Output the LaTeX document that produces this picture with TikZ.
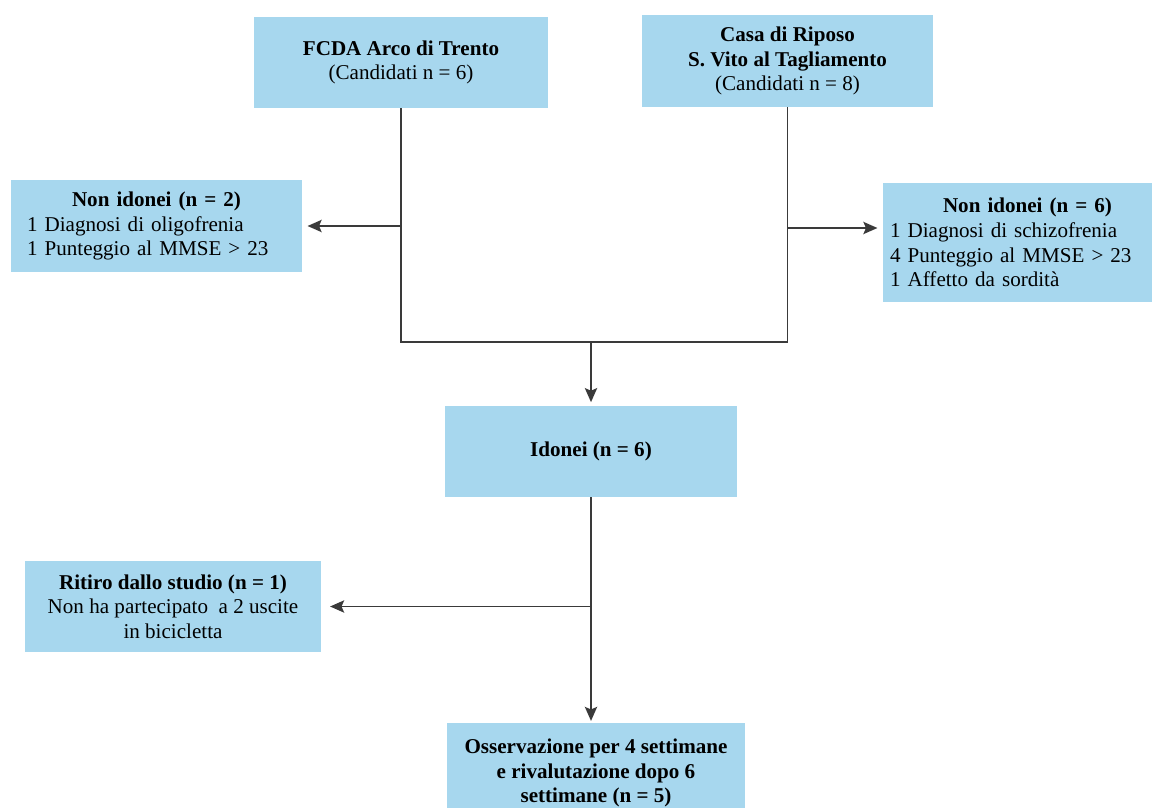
\documentclass[tikz,border=0pt]{standalone}
\usepackage{fontspec}
\setmainfont{Liberation Serif}
\usetikzlibrary{arrows.meta}

\definecolor{boxblue}{HTML}{A7D7EE}
\definecolor{linegray}{HTML}{3A3A3A}

\begin{document}
\begin{tikzpicture}[x=0.02cm,y=-0.02cm,
    box/.style={fill=boxblue, draw=none, align=center, inner sep=0pt,
                font=\fontsize{12}{14}\selectfont},
    link/.style={draw=linegray, line width=0.8pt},
    arrow/.style={link, -{Stealth[length=8pt,width=7pt,inset=1.5pt]}}]
        \path[use as bounding box] (0,0) rectangle (1160,808);   % page frame
        \clip (0,0) rectangle (1160,808);

        % centres
        \node[box, minimum width=5.88cm, minimum height=1.82cm] (fcda) at (401,62.5)
            {\textbf{FCDA Arco di Trento}\\(Candidati n = 6)};
        \node[box, minimum width=5.82cm, minimum height=1.84cm] (casa) at (787.5,61)
            {\textbf{Casa di Riposo}\\\textbf{S. Vito al Tagliamento}\\(Candidati n = 8)};

        % esclusi
        \node[box, minimum width=5.82cm, minimum height=1.84cm, text width=5.18cm, align=left] (nonL) at (156.5,226)
            {\makebox[\linewidth]{\textbf{Non idonei (n = 2)}}\\1 Diagnosi di oligofrenia\\1 Punteggio al MMSE > 23};
        \node[box, minimum width=5.38cm, minimum height=2.38cm, text width=5.1cm, align=left] (nonR) at (1017.5,242.5)
            {\makebox[\linewidth]{\hspace{0.4cm}\textbf{Non idonei (n = 6)}}\\1 Diagnosi di schizofrenia\\4 Punteggio al MMSE > 23\\1 Affetto da sordità};

        \node[box, minimum width=5.84cm, minimum height=1.82cm] (idonei) at (591,451.5)
            {\textbf{Idonei (n = 6)}};
        \node[box, minimum width=5.92cm, minimum height=1.82cm] (ritiro) at (173,606.5)
            {\textbf{Ritiro dallo studio (n = 1)}\\Non ha partecipato \ a 2 uscite\\in bicicletta};
        \node[box, minimum width=5.96cm, minimum height=2.0cm] (osserv) at (596,773)
            {\textbf{Osservazione per 4 settimane}\\\textbf{e rivalutazione dopo 6}\\\textbf{settimane (n = 5)}};

        % connettori
        \coordinate (join) at (591,342);
        \draw[link] (fcda.south) |- (join) -| (casa.south);
        \draw[arrow, shorten >=3pt] (fcda.south |- nonL.east) -- (nonL.east);
        \draw[arrow, shorten >=3pt] (casa.south |- 0,228) -- (nonR.west |- 0,228);
        \draw[arrow, shorten >=2pt] (join) -- (idonei.north);
        \draw[arrow, shorten >=1pt] (idonei.south) -- (idonei.south |- osserv.north);
        \draw[arrow, shorten >=5pt] (idonei.south |- ritiro.east) -- (ritiro.east);
\end{tikzpicture}
\end{document}
